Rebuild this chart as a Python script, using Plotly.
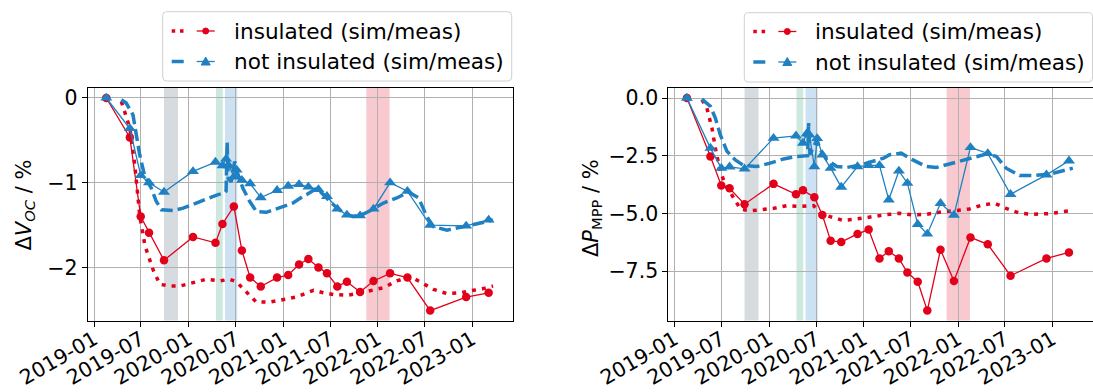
import plotly.graph_objects as go

# ---------------- data ----------------
meas_dates = ["2019-02-17", "2019-05-19", "2019-06-30", "2019-08-01", "2019-09-28", "2020-01-18",
              "2020-04-14", "2020-05-11", "2020-06-24", "2020-07-25", "2020-08-26", "2020-10-06",
              "2020-12-08", "2021-01-20", "2021-03-03", "2021-04-08", "2021-05-17", "2021-06-19",
              "2021-07-29", "2021-09-04", "2021-10-25", "2021-12-16", "2022-02-18", "2022-04-26",
              "2022-07-23", "2022-12-09", "2023-03-06"]
ins_voc_meas = [0, -0.465, -1.40, -1.59, -1.917, -1.64, -1.71, -1.487, -1.28, -1.80, -2.12, -2.225,
                -2.12, -2.09, -1.965, -1.90, -2.0, -2.07, -2.225, -2.17, -2.29, -2.16, -2.07, -2.12,
                -2.51, -2.35, -2.30]
ins_pmpp_meas = [0, -2.53, -3.79, -3.91, -4.60, -3.72, -4.17, -4.00, -4.30, -5.07, -6.18, -6.24,
                 -5.89, -5.70, -6.95, -6.64, -6.95, -7.56, -7.96, -9.21, -6.57, -7.93, -6.04, -6.34,
                 -7.70, -6.95, -6.69]

noins_dates = ["2019-02-17", "2019-05-19", "2019-06-30", "2019-08-01", "2019-09-28", "2020-01-18",
               "2020-04-14", "2020-05-11", "2020-05-25", "2020-06-05", "2020-06-24", "2020-07-05",
               "2020-07-25", "2020-08-26", "2020-10-06", "2020-12-08", "2021-01-20", "2021-03-03",
               "2021-04-08", "2021-05-17", "2021-06-19", "2021-07-29", "2021-09-04", "2021-10-25",
               "2021-12-16", "2022-02-18", "2022-04-26", "2022-07-23", "2022-12-09", "2023-03-06"]
noins_voc_meas = [0, -0.36, -0.915, -1.0, -1.11, -0.867, -0.757, -0.797, -0.72, -0.80, -0.93, -0.85,
                  -0.97, -1.01, -1.175, -1.09, -1.04, -1.02, -1.05, -1.08, -1.16, -1.31, -1.38, -1.39,
                  -1.31, -1.0, -1.10, -1.50, -1.51, -1.44]
noins_pmpp_meas = [0, -2.17, -3.04, -2.98, -3.07, -1.74, -1.64, -1.95, -1.55, -1.6, -2.97, -1.75,
                   -2.46, -3.04, -3.86, -2.97, -2.92, -2.92, -4.41, -3.16, -3.69, -5.47, -5.89, -4.56,
                   -5.07, -2.14, -2.40, -4.17, -3.33, -2.72]

ins_voc_sim_dates = ["2019-04-16", "2019-05-19", "2019-06-07", "2019-06-26", "2019-07-16", "2019-08-17",
                     "2019-09-12", "2019-10-20", "2019-11-28", "2020-01-18", "2020-03-10", "2020-05-01",
                     "2020-06-08", "2020-07-04", "2020-08-12", "2020-09-19", "2020-11-10", "2021-01-01",
                     "2021-02-21", "2021-04-28", "2021-06-05", "2021-07-14", "2021-09-04", "2021-10-13",
                     "2021-12-03", "2022-01-23", "2022-03-16", "2022-05-07", "2022-06-14", "2022-08-05",
                     "2022-09-26", "2022-11-16", "2023-01-07", "2023-02-14", "2023-03-23"]
ins_voc_sim = [-0.04, -0.355, -0.79, -1.38, -1.74, -2.03, -2.20, -2.22, -2.22, -2.18, -2.14, -2.16,
               -2.14, -2.17, -2.29, -2.41, -2.41, -2.375, -2.35, -2.27, -2.30, -2.32, -2.33, -2.31,
               -2.28, -2.24, -2.16, -2.11, -2.17, -2.26, -2.31, -2.30, -2.27, -2.25, -2.22]

noins_voc_sim_dates = ["2019-04-16", "2019-05-05", "2019-05-31", "2019-06-13", "2019-06-26", "2019-07-16",
                       "2019-08-10", "2019-08-29", "2019-09-18", "2019-11-02", "2019-12-11", "2020-01-31",
                       "2020-03-23", "2020-04-24", "2020-05-20", "2020-05-25", "2020-05-29", "2020-06-02",
                       "2020-06-14", "2020-06-27", "2020-07-10", "2020-07-29", "2020-08-24", "2020-09-19",
                       "2020-10-28", "2020-12-18", "2021-02-08", "2021-03-19", "2021-04-02", "2021-05-11",
                       "2021-06-12", "2021-07-14", "2021-08-22", "2021-09-29", "2021-11-07", "2021-12-10",
                       "2022-01-23", "2022-03-16", "2022-04-30", "2022-06-08", "2022-07-10", "2022-08-05",
                       "2022-09-26", "2022-11-16", "2023-01-07", "2023-02-27", "2023-03-23"]
noins_voc_sim = [-0.02, -0.06, -0.20, -0.43, -0.67, -0.93, -1.065, -1.22, -1.32, -1.33, -1.30, -1.24,
                 -1.175, -1.14, -1.12, -1.10, -0.52, -0.95, -0.99, -0.75, -0.91, -1.065, -1.22, -1.34,
                 -1.35, -1.30, -1.24, -1.16, -1.14, -1.065, -1.16, -1.26, -1.36, -1.40, -1.37, -1.32,
                 -1.24, -1.18, -1.11, -1.18, -1.40, -1.52, -1.56, -1.53, -1.50, -1.46, -1.44]

ins_pmpp_sim_dates = ["2019-04-16", "2019-05-05", "2019-05-25", "2019-06-07", "2019-06-26", "2019-07-16",
                      "2019-08-10", "2019-09-12", "2019-10-20", "2019-11-28", "2020-01-18", "2020-03-10",
                      "2020-05-01", "2020-06-21", "2020-07-17", "2020-08-24", "2020-10-15", "2020-12-06",
                      "2021-01-26", "2021-03-19", "2021-04-11", "2021-05-20", "2021-07-10", "2021-08-31",
                      "2021-10-21", "2021-12-12", "2022-02-14", "2022-04-07", "2022-05-22", "2022-07-06",
                      "2022-08-27", "2022-10-17", "2022-12-21", "2023-03-06"]
ins_pmpp_sim = [-0.07, -0.43, -1.30, -2.17, -3.18, -3.76, -4.20, -4.81, -4.89, -4.85, -4.78, -4.66,
                -4.70, -4.66, -4.99, -5.14, -5.31, -5.24, -5.14, -5.07, -5.04, -4.99, -5.07, -5.04,
                -4.95, -4.89, -4.81, -4.63, -4.56, -4.78, -4.99, -5.04, -5.01, -4.89]

noins_pmpp_sim_dates = ["2019-04-16", "2019-05-19", "2019-06-07", "2019-06-26", "2019-07-22", "2019-08-23",
                        "2019-09-24", "2019-11-15", "2020-01-05", "2020-02-26", "2020-04-17", "2020-05-20",
                        "2020-05-29", "2020-06-02", "2020-06-07", "2020-06-21", "2020-07-04", "2020-07-17",
                        "2020-08-11", "2020-09-19", "2020-10-28", "2020-12-18", "2021-02-08", "2021-03-19",
                        "2021-04-11", "2021-05-26", "2021-07-10", "2021-08-31", "2021-10-09", "2021-11-16",
                        "2022-01-07", "2022-02-27", "2022-04-20", "2022-05-29", "2022-07-06", "2022-08-27",
                        "2022-10-17", "2022-12-21", "2023-02-11", "2023-03-21"]
noins_pmpp_sim = [-0.05, -0.36, -0.87, -1.59, -2.31, -2.68, -2.92, -2.97, -2.82, -2.64, -2.53, -2.53,
                  -2.50, -1.09, -2.45, -2.10, -1.81, -2.24, -2.68, -2.97, -3.01, -2.90, -2.75, -2.61,
                  -2.46, -2.39, -2.68, -2.97, -3.01, -2.90, -2.75, -2.58, -2.43, -2.53, -3.04, -3.36,
                  -3.36, -3.30, -3.16, -3.04]

bands = [("2019-09-28", "2019-11-21", "#d6dbdf"),
         ("2020-04-16", "2020-05-12", "#cde9df"),
         ("2020-05-21", "2020-07-07", "#cce1f1"),
         ("2021-11-18", "2022-02-16", "#f8c9ce")]

legend_labels = ["insulated (sim/meas)", "not insulated (sim/meas)"]
y_titles = ["Δ<i>V</i><sub><i>OC</i></sub> / %", "Δ<i>P</i><sub>MPP</sub> / %"]

RED = "#e2001a"
BLUE = "#1f80c2"
W, H = 1093, 392
FONT = "DejaVu Sans"

fig = go.Figure()

def add_panel(xa, ya, ins_sd, ins_s, ins_m, noins_sd, noins_s, noins_m):
    fig.add_trace(go.Scatter(x=ins_sd, y=ins_s, mode="lines", xaxis=xa, yaxis=ya,
                             line=dict(color=RED, width=3.5, dash="4px,6px"), showlegend=False))
    fig.add_trace(go.Scatter(x=meas_dates, y=ins_m, mode="lines+markers", xaxis=xa, yaxis=ya,
                             line=dict(color=RED, width=1.3),
                             marker=dict(symbol="circle", size=8.5, color=RED), showlegend=False))
    fig.add_trace(go.Scatter(x=noins_sd, y=noins_s, mode="lines", xaxis=xa, yaxis=ya,
                             line=dict(color=BLUE, width=3.5, dash="12px,5px"), showlegend=False))
    fig.add_trace(go.Scatter(x=noins_dates, y=noins_m, mode="lines+markers", xaxis=xa, yaxis=ya,
                             line=dict(color=BLUE, width=1.3),
                             marker=dict(symbol="triangle-up", size=10.5, color=BLUE), showlegend=False))

add_panel("x", "y", ins_voc_sim_dates, ins_voc_sim, ins_voc_meas,
          noins_voc_sim_dates, noins_voc_sim, noins_voc_meas)
add_panel("x2", "y2", ins_pmpp_sim_dates, ins_pmpp_sim, ins_pmpp_meas,
          noins_pmpp_sim_dates, noins_pmpp_sim, noins_pmpp_meas)

shapes = []
for xr, yr in (("x", "y domain"), ("x2", "y2 domain")):
    for a, b, c in bands:
        shapes.append(dict(type="rect", xref=xr, yref=yr, x0=a, x1=b, y0=0, y1=1,
                           fillcolor=c, line=dict(width=0), layer="below"))

def px(x):
    return x / W

def py(y):
    return 1 - y / H

def rounded_box(x0, y0, x1, y1, r=4):
    return ("M {a},{b} L {c},{b} Q {d},{b} {d},{e} L {d},{f} Q {d},{g} {c},{g} L {a},{g} "
            "Q {h},{g} {h},{f} L {h},{e} Q {h},{b} {a},{b} Z").format(
        a=px(x0 + r), b=py(y0), c=px(x1 - r), d=px(x1), e=py(y0 + r), f=py(y1 - r),
        g=py(y1), h=px(x0))

annotations = []
for L, top, bot, rows, R in ((162.7, 11.7, 81.0, (31.0, 61.5), 511.7),
                             (744.3, 12.7, 82.0, (31.5, 62.0), 1092.5)):
    shapes.append(dict(type="path", xref="paper", yref="paper", path=rounded_box(L, top, R, bot),
                       fillcolor="rgba(255,255,255,0.85)", line=dict(color="#d0d0d0", width=1)))
    r1, r2 = rows
    # insulated row
    shapes.append(dict(type="line", xref="paper", yref="paper", x0=px(L + 9), x1=px(L + 21),
                       y0=py(r1), y1=py(r1), line=dict(color=RED, width=3.5, dash="3.5px,4.8px")))
    shapes.append(dict(type="line", xref="paper", yref="paper", x0=px(L + 34), x1=px(L + 52),
                       y0=py(r1), y1=py(r1), line=dict(color=RED, width=1.3)))
    shapes.append(dict(type="circle", xref="paper", yref="paper", x0=px(L + 40), x1=px(L + 46),
                       y0=py(r1 - 3), y1=py(r1 + 3), fillcolor=RED, line=dict(color=RED, width=1)))
    # not insulated row
    shapes.append(dict(type="line", xref="paper", yref="paper", x0=px(L + 9), x1=px(L + 21),
                       y0=py(r2), y1=py(r2), line=dict(color=BLUE, width=3.5)))
    shapes.append(dict(type="line", xref="paper", yref="paper", x0=px(L + 34), x1=px(L + 52),
                       y0=py(r2), y1=py(r2), line=dict(color=BLUE, width=1.3)))
    shapes.append(dict(type="path", xref="paper", yref="paper",
                       path="M {},{} L {},{} L {},{} Z".format(px(L + 38.5), py(r2 + 3.5),
                                                               px(L + 47.5), py(r2 + 3.5),
                                                               px(L + 43), py(r2 - 4.5)),
                       fillcolor=BLUE, line=dict(color=BLUE, width=1)))
    for txt, ry in zip(legend_labels, rows):
        annotations.append(dict(x=px(L + 69), y=py(ry), xref="paper", yref="paper", text=txt,
                                showarrow=False, xanchor="left", yanchor="middle",
                                font=dict(family=FONT, size=21.6, color="#000000")))

annotations.append(dict(x=px(24.5), y=py(205), xref="paper", yref="paper", text=y_titles[0],
                        textangle=-90, showarrow=False, xanchor="center", yanchor="middle",
                        font=dict(family=FONT, size=21, color="#000000")))
annotations.append(dict(x=px(592), y=py(208), xref="paper", yref="paper", text=y_titles[1],
                        textangle=-90, showarrow=False, xanchor="center", yanchor="middle",
                        font=dict(family=FONT, size=21, color="#000000")))

xcommon = dict(type="date", range=["2018-12-07", "2023-06-07"], tick0="2019-01-01", dtick="M6",
               tickformat="%Y-%m", tickangle=-30, showgrid=True, gridcolor="#b0b0b0", gridwidth=1,
               showline=True, linecolor="#000000", linewidth=1, mirror=True, ticks="outside",
               ticklen=5, tickcolor="#000000", zeroline=False, automargin=False,
               ticklabelstandoff=-7,
               tickfont=dict(family=FONT, size=20.5, color="#000000"))
ycommon = dict(showgrid=True, gridcolor="#b0b0b0", gridwidth=1, showline=True, linecolor="#000000",
               linewidth=1, mirror=True, ticks="outside", ticklen=5, tickcolor="#000000",
               zeroline=False, automargin=False, tickfont=dict(family=FONT, size=20.5, color="#000000"))

y0d, y1d = 1 - 320.5 / H, 1 - 88 / H
fig.update_layout(
    width=W, height=H, margin=dict(l=0, r=0, t=0, b=0, pad=0, autoexpand=False),
    paper_bgcolor="white", plot_bgcolor="white", showlegend=False,
    xaxis=dict(domain=[87.7 / W, 512.7 / W], anchor="y", **xcommon),
    xaxis2=dict(domain=[668.3 / W, 1.0], anchor="y2", **xcommon),
    yaxis=dict(domain=[y0d, y1d], anchor="x", range=[-2.627, 0.118], tickvals=[0, -1, -2], **ycommon),
    yaxis2=dict(domain=[y0d, y1d], anchor="x2", range=[-9.64, 0.434], tickvals=[0, -2.5, -5, -7.5],
                tickformat=".1f", **ycommon),
    shapes=shapes, annotations=annotations,
    font=dict(family=FONT),
)

fig.write_html("out.html")
